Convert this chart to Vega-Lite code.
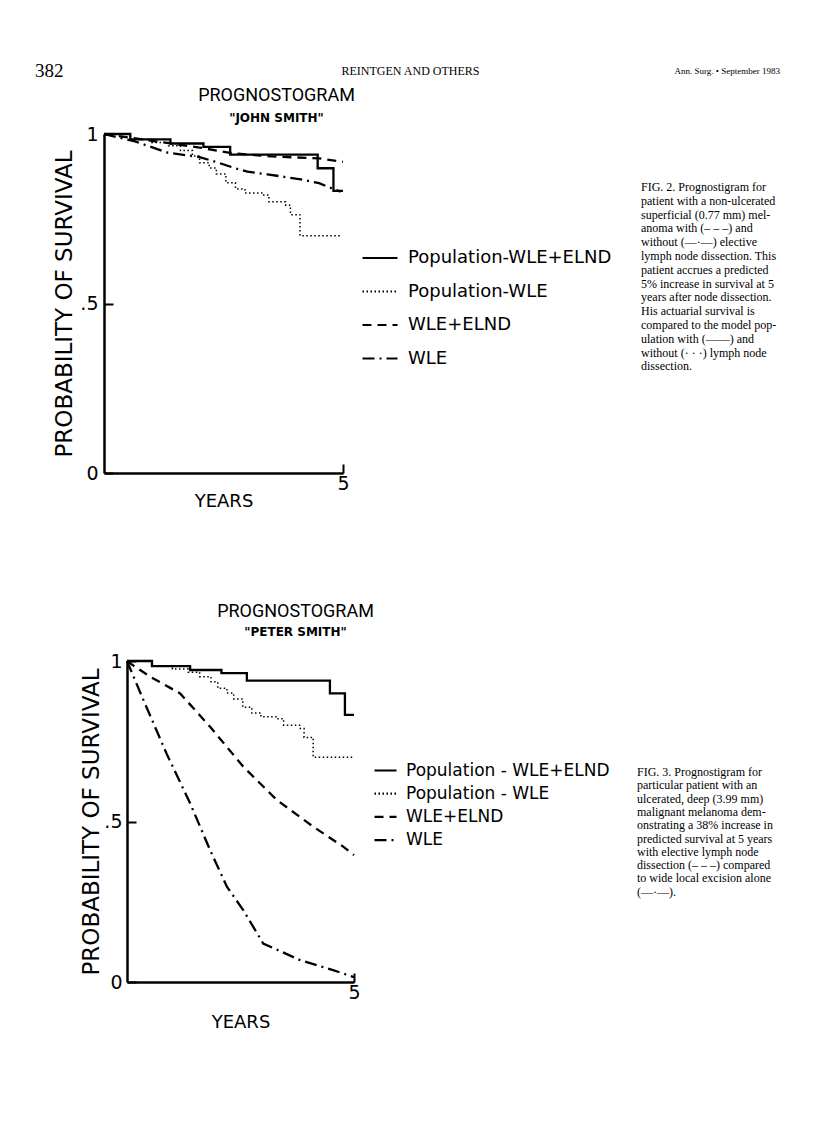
{
  "$schema": "https://vega.github.io/schema/vega-lite/v6.json",
  "background": "white",
  "padding": {"left": 35, "top": 55, "right": 5, "bottom": 5},
  "config": {
    "view": {"stroke": null},
    "font": "DejaVu Sans",
    "axis": {"grid": false, "domainColor": "black", "domainWidth": 2.5, "tickColor": "black", "tickWidth": 2, "tickSize": -9, "labelColor": "black", "titleColor": "black", "labelFont": "DejaVu Sans", "titleFont": "DejaVu Sans", "titleFontWeight": "normal", "labelFontSize": 19},
    "axisX": {"labelPadding": 10, "labelFlush": false, "titlePadding": -1, "titleFontSize": 18},
    "axisY": {"labelPadding": 15, "titlePadding": 3, "titleFontSize": 23},
    "legend": {"orient": "none", "title": null, "symbolType": "stroke", "symbolStrokeColor": "black", "symbolStrokeWidth": 2.2, "labelFont": "DejaVu Sans", "labelColor": "black", "padding": 0, "labelLimit": 400},
    "title": {"font": "Roboto", "fontSize": 18, "fontWeight": "normal", "color": "black", "subtitleFont": "DejaVu Sans", "subtitleFontSize": 12, "subtitleFontWeight": "bold", "subtitleColor": "black", "anchor": "middle", "offset": 1, "subtitlePadding": 8}
  },
  "datasets": {
    "population": [
      {"series": "Population-WLE+ELND", "years": 0, "survival": 1.0},
      {"series": "Population-WLE+ELND", "years": 0.55, "survival": 0.984},
      {"series": "Population-WLE+ELND", "years": 1.39, "survival": 0.972},
      {"series": "Population-WLE+ELND", "years": 2.08, "survival": 0.962},
      {"series": "Population-WLE+ELND", "years": 2.64, "survival": 0.939},
      {"series": "Population-WLE+ELND", "years": 4.47, "survival": 0.899},
      {"series": "Population-WLE+ELND", "years": 4.8, "survival": 0.832},
      {"series": "Population-WLE+ELND", "years": 5.0, "survival": 0.832},
      {"series": "Population-WLE", "years": 0, "survival": 1.0},
      {"series": "Population-WLE", "years": 0.55, "survival": 0.984},
      {"series": "Population-WLE", "years": 1.0, "survival": 0.975},
      {"series": "Population-WLE", "years": 1.35, "survival": 0.965},
      {"series": "Population-WLE", "years": 1.6, "survival": 0.951},
      {"series": "Population-WLE", "years": 1.85, "survival": 0.935},
      {"series": "Population-WLE", "years": 2.0, "survival": 0.915},
      {"series": "Population-WLE", "years": 2.2, "survival": 0.9},
      {"series": "Population-WLE", "years": 2.35, "survival": 0.882},
      {"series": "Population-WLE", "years": 2.55, "survival": 0.856},
      {"series": "Population-WLE", "years": 2.75, "survival": 0.838},
      {"series": "Population-WLE", "years": 2.95, "survival": 0.826},
      {"series": "Population-WLE", "years": 3.3, "survival": 0.82},
      {"series": "Population-WLE", "years": 3.45, "survival": 0.8},
      {"series": "Population-WLE", "years": 3.8, "survival": 0.79},
      {"series": "Population-WLE", "years": 3.9, "survival": 0.762},
      {"series": "Population-WLE", "years": 4.1, "survival": 0.7},
      {"series": "Population-WLE", "years": 4.97, "survival": 0.7}
    ],
    "fig2": [
      {"series": "WLE+ELND", "years": 0, "survival": 1.0},
      {"series": "WLE+ELND", "years": 0.5, "survival": 0.99},
      {"series": "WLE+ELND", "years": 1.0, "survival": 0.98},
      {"series": "WLE+ELND", "years": 1.5, "survival": 0.97},
      {"series": "WLE+ELND", "years": 2.0, "survival": 0.96},
      {"series": "WLE+ELND", "years": 2.7, "survival": 0.943},
      {"series": "WLE+ELND", "years": 3.5, "survival": 0.934},
      {"series": "WLE+ELND", "years": 4.5, "survival": 0.928},
      {"series": "WLE+ELND", "years": 5.0, "survival": 0.918},
      {"series": "WLE", "years": 0, "survival": 1.0},
      {"series": "WLE", "years": 0.63, "survival": 0.979},
      {"series": "WLE", "years": 1.33, "survival": 0.945},
      {"series": "WLE", "years": 2.0, "survival": 0.932},
      {"series": "WLE", "years": 2.4, "survival": 0.915},
      {"series": "WLE", "years": 2.72, "survival": 0.9},
      {"series": "WLE", "years": 3.0, "survival": 0.889},
      {"series": "WLE", "years": 3.42, "survival": 0.881},
      {"series": "WLE", "years": 4.12, "survival": 0.866},
      {"series": "WLE", "years": 4.5, "survival": 0.855},
      {"series": "WLE", "years": 4.81, "survival": 0.837},
      {"series": "WLE", "years": 4.95, "survival": 0.83}
    ],
    "fig3": [
      {"series": "WLE+ELND", "years": 0, "survival": 1.0},
      {"series": "WLE+ELND", "years": 0.15, "survival": 0.985},
      {"series": "WLE+ELND", "years": 0.5, "survival": 0.952},
      {"series": "WLE+ELND", "years": 1.17, "survival": 0.899},
      {"series": "WLE+ELND", "years": 1.83, "survival": 0.795},
      {"series": "WLE+ELND", "years": 2.56, "survival": 0.671},
      {"series": "WLE+ELND", "years": 3.3, "survival": 0.567},
      {"series": "WLE+ELND", "years": 4.1, "survival": 0.484},
      {"series": "WLE+ELND", "years": 4.77, "survival": 0.421},
      {"series": "WLE+ELND", "years": 5.0, "survival": 0.395},
      {"series": "WLE", "years": 0, "survival": 1.0},
      {"series": "WLE", "years": 0.36, "survival": 0.879},
      {"series": "WLE", "years": 0.87, "survival": 0.712},
      {"series": "WLE", "years": 1.39, "survival": 0.557},
      {"series": "WLE", "years": 1.83, "survival": 0.411},
      {"series": "WLE", "years": 2.2, "survival": 0.297},
      {"series": "WLE", "years": 2.56, "survival": 0.224},
      {"series": "WLE", "years": 3.0, "survival": 0.12},
      {"series": "WLE", "years": 3.8, "survival": 0.069},
      {"series": "WLE", "years": 4.54, "survival": 0.037},
      {"series": "WLE", "years": 5.0, "survival": 0.015}
    ]
  },
  "spacing": 6,
  "resolve": {"scale": {"strokeDash": "independent"}, "legend": {"strokeDash": "independent"}},
  "vconcat": [
    {
      "width": 745,
      "height": 14,
      "data": {"values": [
        {"slot": "left", "label": "382"},
        {"slot": "center", "label": "REINTGEN AND OTHERS"},
        {"slot": "right", "label": "Ann. Surg. • September 1983"}
      ]},
      "encoding": {
        "x": {"field": "slot", "type": "nominal", "scale": {"type": "point", "domain": ["left", "center", "right"], "padding": 0}, "axis": null},
        "text": {"field": "label"}
      },
      "layer": [
        {"transform": [{"filter": "datum.slot === 'left'"}], "mark": {"type": "text", "align": "left", "baseline": "top", "font": "Liberation Serif", "fontSize": 19, "color": "black"}},
        {"transform": [{"filter": "datum.slot === 'center'"}], "mark": {"type": "text", "align": "center", "baseline": "top", "font": "Liberation Serif", "fontSize": 12, "dx": 3, "dy": 4, "color": "black"}},
        {"transform": [{"filter": "datum.slot === 'right'"}], "mark": {"type": "text", "align": "right", "baseline": "top", "font": "Liberation Serif", "fontSize": 9, "dy": 5, "color": "black"}}
      ]
    },
    {
      "spacing": 93,
      "resolve": {"scale": {"strokeDash": "independent"}, "legend": {"strokeDash": "independent"}},
      "vconcat": [
        {
          "spacing": 0,
          "hconcat": [
            {"width": 18, "height": 10, "data": {"values": []}, "mark": "text"},
            {
              "width": 239,
              "height": 339,
              "title": {"text": "PROGNOSTOGRAM", "subtitle": "\"JOHN SMITH\"", "dx": 53},
              "encoding": {
                "x": {"field": "years", "type": "quantitative", "scale": {"domain": [0, 5], "nice": false}, "axis": {"values": [5], "title": "YEARS"}},
                "y": {"field": "survival", "type": "quantitative", "scale": {"domain": [0, 1], "nice": false}, "axis": {"values": [0, 0.5, 1], "labelExpr": "datum.value == 0.5 ? '.5' : (datum.value == 1 ? '1' : '0')", "title": "PROBABILITY OF SURVIVAL"}},
                "strokeDash": {"field": "series", "type": "nominal", "scale": {"domain": ["Population-WLE+ELND", "Population-WLE", "WLE+ELND", "WLE"], "range": [[1, 0], [1.5, 2.5], [9, 6], [12, 5, 2, 5]]}, "legend": {"legendX": 326, "legendY": 105, "symbolSize": 1225, "labelFontSize": 18, "rowPadding": 5.5, "labelOffset": 9}},
                "strokeWidth": {"condition": {"test": "datum.series === 'Population-WLE'", "value": 1.5}, "value": 2.3}
              },
              "layer": [
                {"data": {"name": "population"}, "mark": {"type": "line", "interpolate": "step-after", "color": "black"}},
                {"data": {"name": "fig2"}, "mark": {"type": "line", "color": "black"}}
              ]
            },
            {
              "width": 2,
              "height": 96,
              "data": {"values": [{"lines": ["FIG. 2. Prognostigram for", "patient with a non-ulcerated", "superficial (0.77 mm) mel-", "anoma with (– – –) and", "without (—·—) elective", "lymph node dissection. This", "patient accrues a predicted", "5% increase in survival at 5", "years after node dissection.", "His actuarial survival is", "compared to the model pop-", "ulation with (——) and", "without (· · ·) lymph node", "dissection."]}]},
              "mark": {"type": "text", "align": "left", "baseline": "top", "font": "Liberation Serif", "fontSize": 12, "lineHeight": 13.8, "dx": 285, "color": "black"},
              "encoding": {"text": {"field": "lines"}}
            }
          ]
        },
        {
          "spacing": 0,
          "hconcat": [
            {"width": 45, "height": 10, "data": {"values": []}, "mark": "text"},
            {
              "width": 227,
              "height": 321,
              "title": {"text": "PROGNOSTOGRAM", "subtitle": "\"PETER SMITH\"", "dx": 55, "offset": 14, "subtitlePadding": 6},
              "encoding": {
                "x": {"field": "years", "type": "quantitative", "scale": {"domain": [0, 5], "nice": false}, "axis": {"values": [5], "title": "YEARS", "titlePadding": 11}},
                "y": {"field": "survival", "type": "quantitative", "scale": {"domain": [0, 1], "nice": false}, "axis": {"values": [0, 0.5, 1], "labelExpr": "datum.value == 0.5 ? '.5' : (datum.value == 1 ? '1' : '0')", "title": "PROBABILITY OF SURVIVAL", "titlePadding": 0, "labelPadding": 14}},
                "strokeDash": {"field": "series", "type": "nominal", "scale": {"domain": ["Population-WLE+ELND", "Population-WLE", "WLE+ELND", "WLE"], "range": [[1, 0], [1.5, 2.5], [9, 6], [12, 5, 2, 5]]}, "legend": {"legendX": 338, "legendY": 97, "symbolSize": 484, "labelFontSize": 17, "rowPadding": 2.2, "labelOffset": 8, "labelExpr": "replace(datum.label, '-', ' - ')"}},
                "strokeWidth": {"condition": {"test": "datum.series === 'Population-WLE'", "value": 1.5}, "value": 2.3}
              },
              "layer": [
                {"data": {"name": "population"}, "mark": {"type": "line", "interpolate": "step-after", "color": "black"}},
                {"data": {"name": "fig3"}, "mark": {"type": "line", "color": "black"}}
              ]
            },
            {
              "width": 2,
              "height": 212,
              "data": {"values": [{"lines": ["FIG. 3. Prognostigram for", "particular patient with an", "ulcerated, deep (3.99 mm)", "malignant melanoma dem-", "onstrating a 38% increase in", "predicted survival at 5 years", "with elective lymph node", "dissection (– – –) compared", "to wide local excision alone", "(—·—)."]}]},
              "mark": {"type": "text", "align": "left", "baseline": "top", "font": "Liberation Serif", "fontSize": 12, "lineHeight": 13.3, "dx": 262, "color": "black"},
              "encoding": {"text": {"field": "lines"}}
            }
          ]
        }
      ]
    }
  ]
}
